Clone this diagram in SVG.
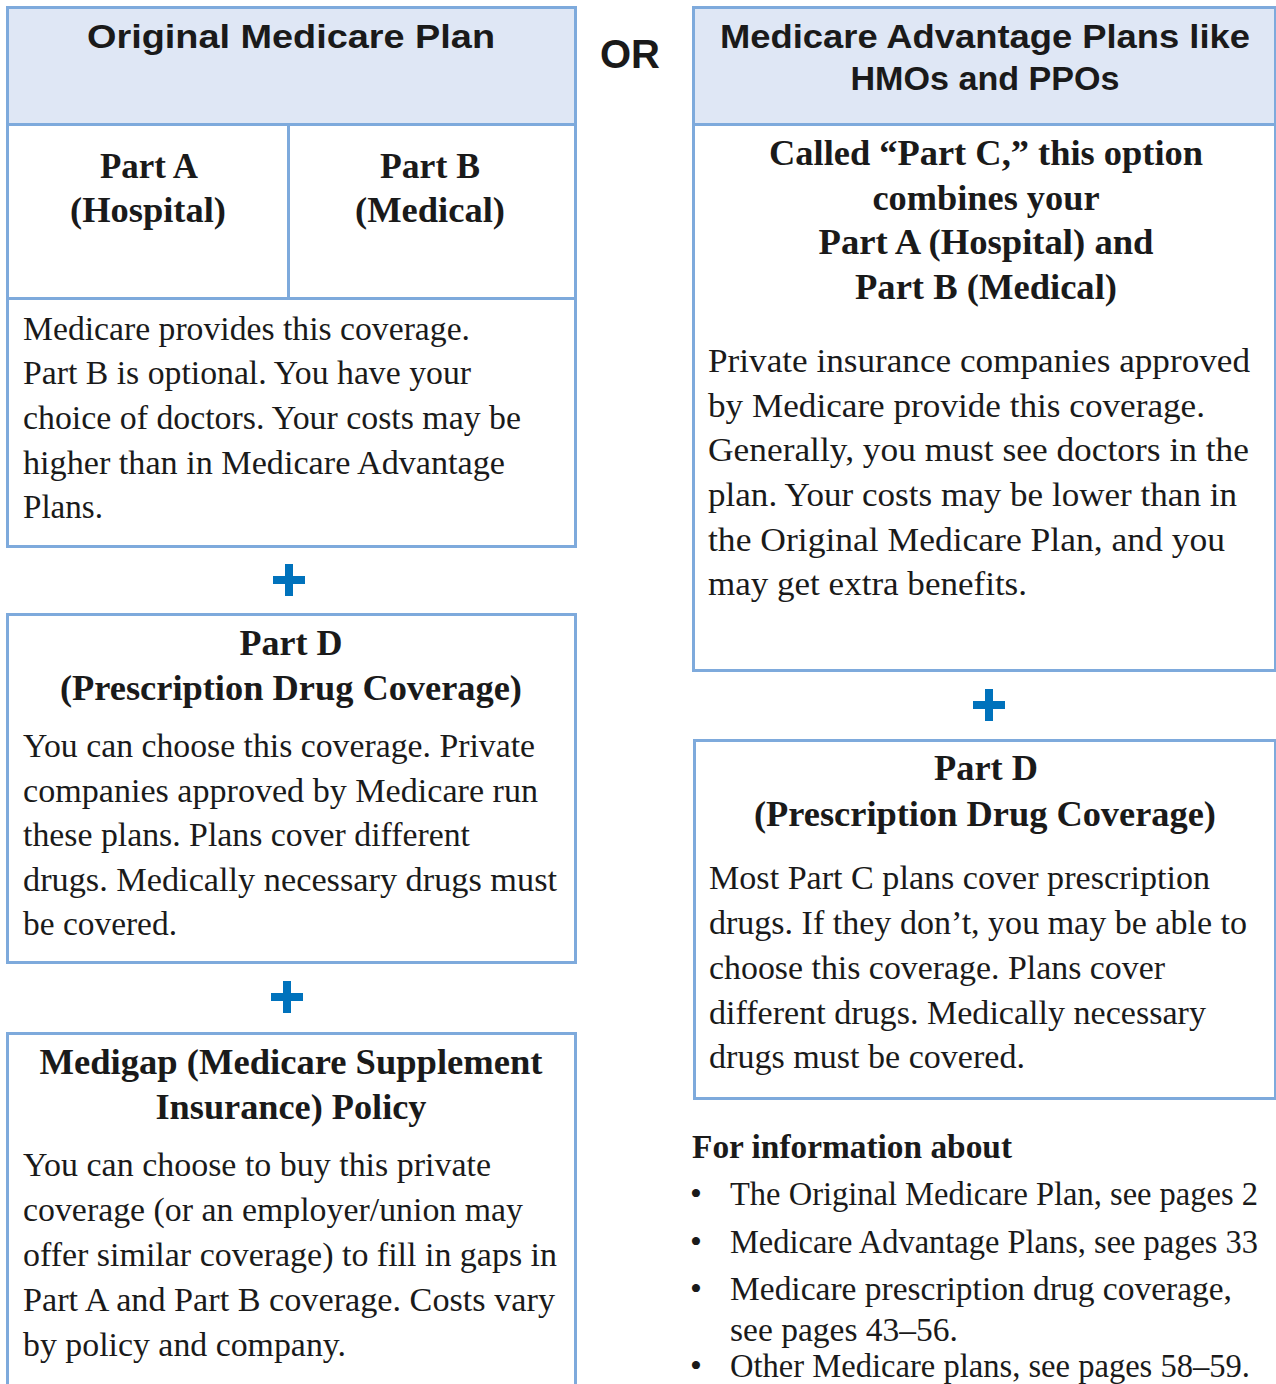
<svg xmlns="http://www.w3.org/2000/svg" width="1276" height="1384" viewBox="0 0 1276 1384">
<style>
.box{fill:#ffffff;stroke:#7eaadc;stroke-width:3}
.hdr{fill:#dfe7f5;stroke:#7eaadc;stroke-width:3}
.sans{font-family:"Liberation Sans",Arial,sans-serif;font-weight:bold;fill:#1a1a1a}
.hb{font-family:"Liberation Serif","Times New Roman",serif;font-weight:bold;font-size:36px;fill:#1a1a1a;text-anchor:middle}
.bd{font-family:"Liberation Serif","Times New Roman",serif;font-size:34px;fill:#1a1a1a}
.plus{fill:#0072bc}
</style>
<rect width="1276" height="1384" fill="#ffffff"/>

<g id="original-plan">
<rect class="hdr" x="7.5" y="7.5" width="568" height="117"/>
<text class="sans" x="291" y="48" font-size="34" text-anchor="middle" textLength="408" lengthAdjust="spacingAndGlyphs">Original Medicare Plan</text>
</g>

<g id="part-a">
<rect class="box" x="7.5" y="124.5" width="281" height="174"/>
<text class="hb" x="149" y="178" textLength="98" lengthAdjust="spacingAndGlyphs">Part A</text>
<text class="hb" x="148" y="222" textLength="156" lengthAdjust="spacingAndGlyphs">(Hospital)</text>
</g>

<g id="part-b">
<rect class="box" x="288.5" y="124.5" width="287" height="174"/>
<text class="hb" x="430" y="178" textLength="100" lengthAdjust="spacingAndGlyphs">Part B</text>
<text class="hb" x="430" y="222" textLength="150" lengthAdjust="spacingAndGlyphs">(Medical)</text>
</g>

<g id="original-desc">
<rect class="box" x="7.5" y="298.5" width="568" height="248"/>
<text class="bd" x="23" y="340" textLength="447" lengthAdjust="spacingAndGlyphs">Medicare provides this coverage.</text>
<text class="bd" x="23" y="384" textLength="448" lengthAdjust="spacingAndGlyphs">Part B is optional. You have your</text>
<text class="bd" x="23" y="429" textLength="498" lengthAdjust="spacingAndGlyphs">choice of doctors. Your costs may be</text>
<text class="bd" x="23" y="474" textLength="482" lengthAdjust="spacingAndGlyphs">higher than in Medicare Advantage</text>
<text class="bd" x="23" y="518" textLength="80" lengthAdjust="spacingAndGlyphs">Plans.</text>
</g>

<g id="or-label">
<text class="sans" x="630" y="68" font-size="40" text-anchor="middle" textLength="60" lengthAdjust="spacingAndGlyphs">OR</text>
</g>

<g id="plus-1"><rect class="plus" x="273" y="576" width="32" height="8"/><rect class="plus" x="285" y="564" width="8" height="32"/></g>

<g id="part-d-left">
<rect class="box" x="7.5" y="614.5" width="568" height="348"/>
<text class="hb" x="291" y="655" textLength="103" lengthAdjust="spacingAndGlyphs">Part D</text>
<text class="hb" x="291" y="700" textLength="462" lengthAdjust="spacingAndGlyphs">(Prescription Drug Coverage)</text>
<text class="bd" x="23" y="757" textLength="512" lengthAdjust="spacingAndGlyphs">You can choose this coverage. Private</text>
<text class="bd" x="23" y="802" textLength="515" lengthAdjust="spacingAndGlyphs">companies approved by Medicare run</text>
<text class="bd" x="23" y="846" textLength="447" lengthAdjust="spacingAndGlyphs">these plans. Plans cover different</text>
<text class="bd" x="23" y="891" textLength="534" lengthAdjust="spacingAndGlyphs">drugs. Medically necessary drugs must</text>
<text class="bd" x="23" y="935" textLength="154" lengthAdjust="spacingAndGlyphs">be covered.</text>
</g>

<g id="plus-2"><rect class="plus" x="271" y="993" width="32" height="8"/><rect class="plus" x="283" y="981" width="8" height="32"/></g>

<g id="medigap">
<rect class="box" x="7.5" y="1033.5" width="568" height="360"/>
<text class="hb" x="291" y="1074" textLength="503" lengthAdjust="spacingAndGlyphs">Medigap (Medicare Supplement</text>
<text class="hb" x="291" y="1119" textLength="271" lengthAdjust="spacingAndGlyphs">Insurance) Policy</text>
<text class="bd" x="23" y="1176" textLength="468" lengthAdjust="spacingAndGlyphs">You can choose to buy this private</text>
<text class="bd" x="23" y="1221" textLength="500" lengthAdjust="spacingAndGlyphs">coverage (or an employer/union may</text>
<text class="bd" x="23" y="1266" textLength="534" lengthAdjust="spacingAndGlyphs">offer similar coverage) to fill in gaps in</text>
<text class="bd" x="23" y="1311" textLength="532" lengthAdjust="spacingAndGlyphs">Part A and Part B coverage. Costs vary</text>
<text class="bd" x="23" y="1356" textLength="323" lengthAdjust="spacingAndGlyphs">by policy and company.</text>
</g>

<g id="advantage-plan">
<rect class="hdr" x="693.5" y="7.5" width="582" height="117"/>
<text class="sans" x="985" y="48" font-size="34" text-anchor="middle" textLength="530" lengthAdjust="spacingAndGlyphs">Medicare Advantage Plans like</text>
<text class="sans" x="985" y="90" font-size="34" text-anchor="middle" textLength="269" lengthAdjust="spacingAndGlyphs">HMOs and PPOs</text>
</g>

<g id="part-c">
<rect class="box" x="693.5" y="124.5" width="582" height="546"/>
<text class="hb" x="986" y="165" textLength="434" lengthAdjust="spacingAndGlyphs">Called “Part C,” this option</text>
<text class="hb" x="986" y="210" textLength="227" lengthAdjust="spacingAndGlyphs">combines your</text>
<text class="hb" x="986" y="254" textLength="335" lengthAdjust="spacingAndGlyphs">Part A (Hospital) and</text>
<text class="hb" x="986" y="299" textLength="262" lengthAdjust="spacingAndGlyphs">Part B (Medical)</text>
<text class="bd" x="708" y="372" textLength="542" lengthAdjust="spacingAndGlyphs">Private insurance companies approved</text>
<text class="bd" x="708" y="417" textLength="497" lengthAdjust="spacingAndGlyphs">by Medicare provide this coverage.</text>
<text class="bd" x="708" y="461" textLength="541" lengthAdjust="spacingAndGlyphs">Generally, you must see doctors in the</text>
<text class="bd" x="708" y="506" textLength="529" lengthAdjust="spacingAndGlyphs">plan. Your costs may be lower than in</text>
<text class="bd" x="708" y="551" textLength="517" lengthAdjust="spacingAndGlyphs">the Original Medicare Plan, and you</text>
<text class="bd" x="708" y="595" textLength="319" lengthAdjust="spacingAndGlyphs">may get extra benefits.</text>
</g>

<g id="plus-3"><rect class="plus" x="973" y="701" width="32" height="8"/><rect class="plus" x="985" y="689" width="8" height="32"/></g>

<g id="part-d-right">
<rect class="box" x="694.5" y="740.5" width="581" height="358"/>
<text class="hb" x="986" y="780" textLength="104" lengthAdjust="spacingAndGlyphs">Part D</text>
<text class="hb" x="985" y="826" textLength="462" lengthAdjust="spacingAndGlyphs">(Prescription Drug Coverage)</text>
<text class="bd" x="709" y="889" textLength="501" lengthAdjust="spacingAndGlyphs">Most Part C plans cover prescription</text>
<text class="bd" x="709" y="934" textLength="538" lengthAdjust="spacingAndGlyphs">drugs. If they don’t, you may be able to</text>
<text class="bd" x="709" y="979" textLength="456" lengthAdjust="spacingAndGlyphs">choose this coverage. Plans cover</text>
<text class="bd" x="709" y="1024" textLength="497" lengthAdjust="spacingAndGlyphs">different drugs. Medically necessary</text>
<text class="bd" x="709" y="1068" textLength="316" lengthAdjust="spacingAndGlyphs">drugs must be covered.</text>
</g>

<g id="info-list">
<text class="bd" x="692" y="1158" font-weight="bold" textLength="320" lengthAdjust="spacingAndGlyphs">For information about</text>
<text class="bd" x="690" y="1205">•</text>
<text class="bd" x="730" y="1205" font-size="32" textLength="528" lengthAdjust="spacingAndGlyphs">The Original Medicare Plan, see pages 2</text>
<text class="bd" x="690" y="1253">•</text>
<text class="bd" x="730" y="1253" font-size="32" textLength="528" lengthAdjust="spacingAndGlyphs">Medicare Advantage Plans, see pages 33</text>
<text class="bd" x="690" y="1300">•</text>
<text class="bd" x="730" y="1300" textLength="502" lengthAdjust="spacingAndGlyphs">Medicare prescription drug coverage,</text>
<text class="bd" x="730" y="1341" textLength="228" lengthAdjust="spacingAndGlyphs">see pages 43–56.</text>
<text class="bd" x="690" y="1377">•</text>
<text class="bd" x="730" y="1377" textLength="520" lengthAdjust="spacingAndGlyphs">Other Medicare plans, see pages 58–59.</text>
</g>

<g id="connectors"></g>
</svg>
